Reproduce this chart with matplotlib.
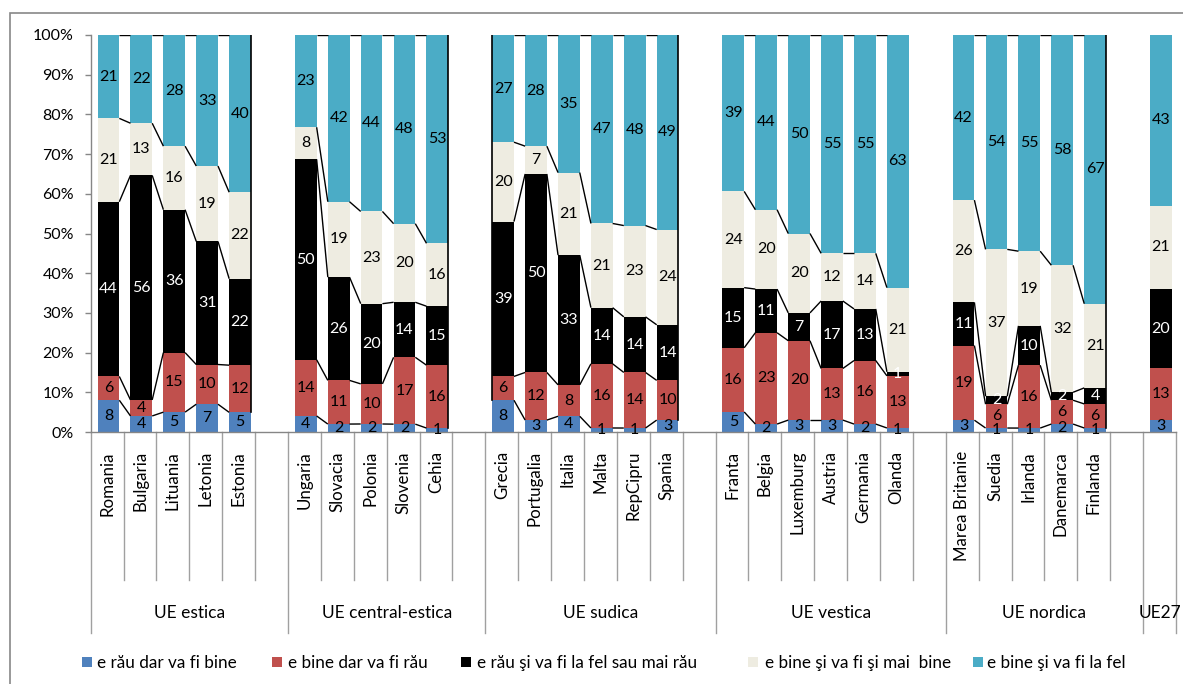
import matplotlib
matplotlib.use('Agg')
import matplotlib.pyplot as plt
from matplotlib.patches import Rectangle
from matplotlib.transforms import blended_transform_factory
import numpy as np

plt.rcParams['font.family'] = ['Lato', 'DejaVu Sans']

# ---------------- data ----------------
groups = ['UE estica', 'UE central-estica', 'UE sudica', 'UE vestica', 'UE nordica', 'UE27']
group_sizes = [5, 5, 6, 6, 5, 1]
countries = ['Romania', 'Bulgaria', 'Lituania', 'Letonia', 'Estonia',
             'Ungaria', 'Slovacia', 'Polonia', 'Slovenia', 'Cehia',
             'Grecia', 'Portugalia', 'Italia', 'Malta', 'RepCipru', 'Spania',
             'Franta', 'Belgia', 'Luxemburg', 'Austria', 'Germania', 'Olanda',
             'Marea Britanie', 'Suedia', 'Irlanda', 'Danemarca', 'Finlanda',
             '']
series_names = ['e rău dar va fi bine', 'e bine dar va fi rău',
                'e rău şi va fi la fel sau mai rău', 'e bine şi va fi şi mai  bine',
                'e bine şi va fi la fel']
rau_bine = [8, 4, 5, 7, 5, 4, 2, 2, 2, 1, 8, 3, 4, 1, 1, 3,
            5, 2, 3, 3, 2, 1, 3, 1, 1, 2, 1, 3]
bine_rau = [6, 4, 15, 10, 12, 14, 11, 10, 17, 16, 6, 12, 8, 16, 14, 10,
            16, 23, 20, 13, 16, 13, 19, 6, 16, 6, 6, 13]
rau_rau = [44, 56, 36, 31, 22, 50, 26, 20, 14, 15, 39, 50, 33, 14, 14, 14,
           15, 11, 7, 17, 13, 1, 11, 2, 10, 2, 4, 20]
bine_maibine = [21, 13, 16, 19, 22, 8, 19, 23, 20, 16, 20, 7, 21, 21, 23, 24,
                24, 20, 20, 12, 14, 21, 26, 37, 19, 32, 21, 21]
bine_fel = [21, 22, 28, 33, 40, 23, 42, 44, 48, 53, 27, 28, 35, 47, 48, 49,
            39, 44, 50, 55, 55, 63, 42, 54, 55, 58, 67, 43]

colors = ['#4F81BD', '#C0504D', '#000000', '#EEECE1', '#4BACC6']
label_colors = ['black', 'black', 'white', 'black', 'black']

# ---------------- layout ----------------
W, H = 1183, 684
fig = plt.figure(figsize=(W / 100, H / 100), dpi=100)
ax_left, ax_right, ax_top, ax_bot = 90.7, 1176.0, 35.0, 432.0
ax = fig.add_axes([ax_left / W, 1 - ax_bot / H, (ax_right - ax_left) / W, (ax_bot - ax_top) / H])

# positions: each group followed by an empty slot
positions = []
group_starts = []
s = 0
for g in group_sizes:
    group_starts.append(s)
    positions.extend(range(s, s + g))
    s += g + 1
positions = np.array(positions, dtype=float)
nslots = s - 1  # 33

data = np.array([rau_bine, bine_rau, rau_rau, bine_maibine, bine_fel], dtype=float)
tot = data.sum(axis=0)
frac = data / tot
cum = np.vstack([np.zeros(len(tot)), np.cumsum(frac, axis=0)])

bw = 0.66
xoff = 0.04
xs = positions + xoff
for k in range(5):
    ax.bar(xs, frac[k], bw, bottom=cum[k], color=colors[k], edgecolor='none',
           zorder=2, label=series_names[k])
    for i in range(len(xs)):
        ax.text(xs[i], cum[k, i] + frac[k, i] / 2, str(int(data[k, i])),
                ha='center', va='center', fontsize=11.5, color=label_colors[k],
                zorder=5, clip_on=False)

# series lines within groups
idx = 0
for gi, g in enumerate(group_sizes):
    for j in range(g - 1):
        a, b = idx + j, idx + j + 1
        for k in range(1, 6):
            ax.plot([xs[a] + bw / 2, xs[b] - bw / 2], [cum[k, a], cum[k, b]],
                    color='black', lw=1.0, zorder=3, solid_capstyle='butt')
    idx += g

# vertical edge lines seen in reference
idx_last = np.cumsum(group_sizes) - 1
for gi in [0, 1, 2, 4]:
    i = idx_last[gi]
    ax.plot([xs[i] + bw / 2] * 2, [cum[1, i], 1.0], color='black', lw=1.2, zorder=3)
i_idx = sum(group_sizes[:2])
ax.plot([xs[i_idx] - bw / 2] * 2, [cum[1, i_idx], 1.0], color='black', lw=1.2, zorder=3)

ax.set_xlim(-0.5, nslots - 0.5)
ax.set_ylim(0, 1)
ax.set_yticks(np.linspace(0, 1, 11))
ax.set_yticklabels([f'{v}%' for v in range(0, 101, 10)], fontsize=11.5)
ax.set_xticks([])
for sp in ['top', 'right']:
    ax.spines[sp].set_visible(False)
for sp in ['left', 'bottom']:
    ax.spines[sp].set_color('#868686')
    ax.spines[sp].set_linewidth(1.0)
ax.tick_params(axis='y', direction='out', length=4, width=1, color='#868686', pad=8)

# category axis (multi-level)
tr = blended_transform_factory(ax.transData, ax.transAxes)
group_bounds = set()
for gs, g in zip(group_starts, group_sizes):
    group_bounds.add(gs - 0.5)
group_bounds.add(nslots - 0.5)
short_y = -(580 - ax_bot) / (ax_bot - ax_top)
long_y = -(633 - ax_bot) / (ax_bot - ax_top)
for b in np.arange(-0.5, nslots, 1.0):
    y1 = long_y if b in group_bounds else short_y
    ax.plot([b, b], [0, y1], color='#A0A0A0', lw=1.0, transform=tr, clip_on=False)

lab_y = -(451 - ax_bot) / (ax_bot - ax_top)
for x, name in zip(positions, countries):
    if name:
        ax.text(x, lab_y, name, rotation=90, ha='center', va='top', fontsize=12.2,
                transform=tr, clip_on=False)

grp_y = -(613 - ax_bot) / (ax_bot - ax_top)
for gi, (gs, g) in enumerate(zip(group_starts, group_sizes)):
    if gi < len(group_sizes) - 1:
        cx = (gs - 0.5 + gs + g + 0.5) / 2
    else:
        cx = gs
    ax.text(cx, grp_y, groups[gi], ha='center', va='center', fontsize=12.5,
            transform=tr, clip_on=False)

# legend (manual)
sq_x = [82, 272, 461, 748, 973]
tx_x = [97, 288, 477, 765, 987]
for k in range(5):
    fig.add_artist(Rectangle((sq_x[k] / W, 1 - 667 / H), 10 / W, 10 / H,
                             transform=fig.transFigure, facecolor=colors[k],
                             edgecolor='none'))
    fig.text(tx_x[k] / W, 1 - 663 / H, series_names[k], ha='left', va='center',
             fontsize=12.3)

# chart area border
fig.add_artist(Rectangle((10 / W, -0.05), 1.1, 1 - 13 / H + 0.05,
                         transform=fig.transFigure, facecolor='none',
                         edgecolor='#888888', lw=1.2))

fig.savefig('out.png', dpi=100)
